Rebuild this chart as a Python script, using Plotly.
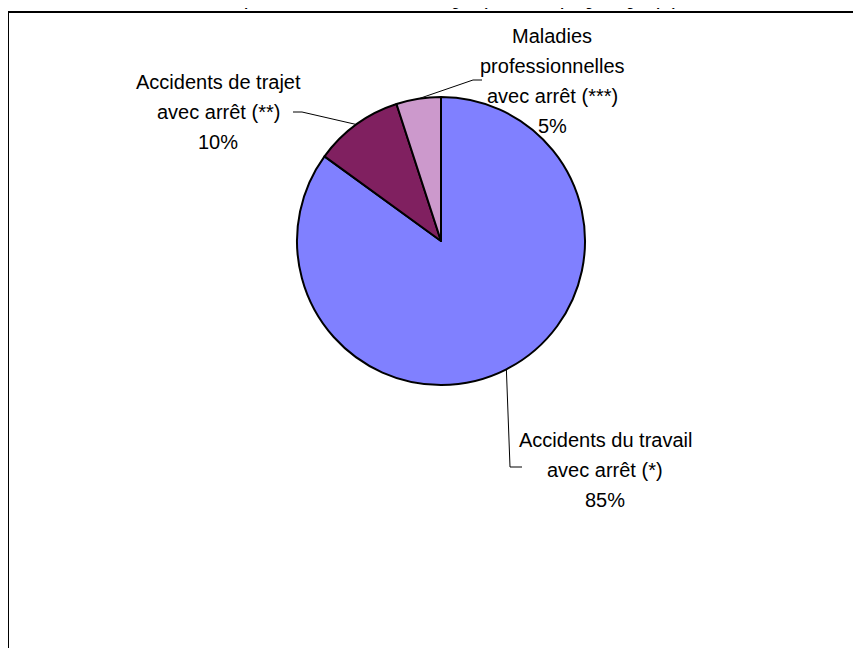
import math
import plotly.graph_objects as go

W, H = 861, 648

# ---- data ----
categories = [
    "Accidents du travail avec arrêt (*)",
    "Accidents de trajet avec arrêt (**)",
    "Maladies professionnelles avec arrêt (***)",
]
label_lines = [
    ["Accidents du travail", "avec arrêt (*)"],
    ["Accidents de trajet", "avec arrêt (**)"],
    ["Maladies", "professionnelles", "avec arrêt (***)"],
]
values = [85, 10, 5]
colors = ["#8080FF", "#802060", "#CC99CC"]
title_text = "Répartition des sinistres selon l'origine (en nombre par grand groupe)"

# ---- layout (page pixels) ----
PAGE_OFF = 8  # body margin of the page
CX, CY, R = 441, 241, 144
FONT = "Liberation Sans, Arial, sans-serif"
FS = 20
LINE_H = 30
label_pos = [
    (605, 447),
    (218, 89),
    (552, 43),
]
leader_pts = [
    [(510, 467), (522, 467)],
    [(302, 112), (293, 112)],
    [(473, 80), (482, 80)],
]


def px(x):
    return (x - PAGE_OFF) / W


def py(y):
    return 1 - (y - PAGE_OFF) / H


fig = go.Figure(
    go.Pie(
        labels=categories,
        values=values,
        sort=False,
        direction="clockwise",
        rotation=0,
        marker=dict(colors=colors, line=dict(color="black", width=2)),
        textinfo="none",
        hoverinfo="label+percent",
        showlegend=False,
        domain=dict(x=[px(CX - R), px(CX + R)], y=[py(CY + R), py(CY - R)]),
    )
)

annotations = []
shapes = []
total = sum(values)
cum = 0
for i, v in enumerate(values):
    mid = (cum + v / 2) / total * 2 * math.pi
    cum += v
    ex = CX + R * math.sin(mid)
    ey = CY - R * math.cos(mid)
    pts = [(ex, ey)] + list(leader_pts[i])
    path = "M " + " L ".join(f"{px(x)},{py(y)}" for x, y in pts)
    shapes.append(dict(type="path", xref="paper", yref="paper", path=path,
                       line=dict(color="black", width=1)))
    lines = label_lines[i] + [f"{round(v / total * 100)}%"]
    lx, ly = label_pos[i]
    for k, t in enumerate(lines):
        annotations.append(dict(
            x=px(lx), y=py(ly + k * LINE_H - 7), xref="paper", yref="paper",
            text=t, showarrow=False, xanchor="center", yanchor="middle",
            font=dict(family=FONT, size=FS, color="black"),
        ))

# title, mostly above the visible area as in the reference
annotations.append(dict(
    x=px(452), y=py(11), xref="paper", yref="paper", text=f"<b>{title_text}</b>",
    showarrow=False, xanchor="center", yanchor="bottom",
    font=dict(family=FONT, size=13.5, color="black"),
))

# chart frame
shapes.append(dict(type="rect", xref="paper", yref="paper",
                   x0=px(8), x1=1.02, y0=-0.02, y1=py(12),
                   line=dict(color="black", width=2), fillcolor="rgba(0,0,0,0)"))

fig.update_layout(
    width=W, height=H,
    margin=dict(l=0, r=0, t=0, b=0),
    paper_bgcolor="white", plot_bgcolor="white",
    annotations=annotations, shapes=shapes,
)

fig.write_html("out.html")
